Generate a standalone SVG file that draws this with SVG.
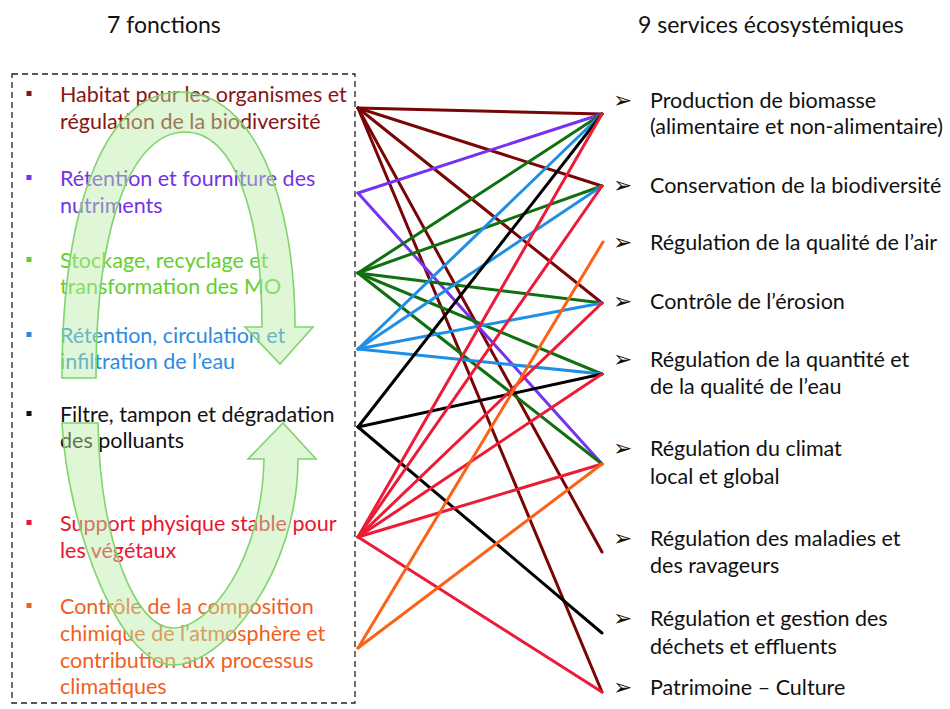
<svg xmlns="http://www.w3.org/2000/svg" width="950" height="709" viewBox="0 0 950 709">
<style>
text{font-family:Lato,"Open Sans","Liberation Sans",sans-serif;font-size:21.5px}
.hd{font-size:23px;fill:#111}
.bul{font-family:"DejaVu Sans",sans-serif;font-size:23px;fill:#111}
.c line{stroke-width:3;stroke-linecap:round}
.dr{stroke:#7a0505}.pu{stroke:#7433f2}.gr{stroke:#10700f}.bl{stroke:#1f8fe6}.bk{stroke:#000}.rd{stroke:#ec1b36}.or{stroke:#fb6216}
.arr{fill:#b8eca6;fill-opacity:0.45;stroke:#80d46c;stroke-width:1.6;stroke-linejoin:miter}
</style>
<rect width="950" height="709" fill="#fff"/>
<text class="hd" x="107" y="33">7 fonctions</text>
<text class="hd" x="638" y="33">9 services écosystémiques</text>
<rect x="12" y="74" width="343" height="629" fill="none" stroke="#222" stroke-width="1.3" stroke-dasharray="6,4"/>
<g id="connectors" class="c">
<line class="dr" x1="358" y1="108" x2="602" y2="114"/>
<line class="dr" x1="358" y1="108" x2="602" y2="186"/>
<line class="dr" x1="358" y1="108" x2="602" y2="303"/>
<line class="dr" x1="358" y1="108" x2="602" y2="552"/>
<line class="dr" x1="358" y1="108" x2="602" y2="692"/>
<line class="pu" x1="358" y1="193" x2="602" y2="114"/>
<line class="pu" x1="358" y1="193" x2="602" y2="464"/>
<line class="gr" x1="358" y1="273" x2="602" y2="114"/>
<line class="gr" x1="358" y1="273" x2="602" y2="186"/>
<line class="gr" x1="358" y1="273" x2="602" y2="303"/>
<line class="gr" x1="358" y1="273" x2="602" y2="374"/>
<line class="gr" x1="358" y1="273" x2="602" y2="464"/>
<line class="bl" x1="358" y1="349" x2="602" y2="114"/>
<line class="bl" x1="358" y1="349" x2="602" y2="186"/>
<line class="bl" x1="358" y1="349" x2="602" y2="303"/>
<line class="bl" x1="358" y1="349" x2="602" y2="374"/>
<line class="bk" x1="358" y1="427" x2="602" y2="114"/>
<line class="bk" x1="358" y1="427" x2="602" y2="374"/>
<line class="bk" x1="358" y1="427" x2="602" y2="633"/>
<line class="rd" x1="358" y1="537" x2="602" y2="114"/>
<line class="rd" x1="358" y1="537" x2="602" y2="186"/>
<line class="rd" x1="358" y1="537" x2="602" y2="303"/>
<line class="rd" x1="358" y1="537" x2="602" y2="374"/>
<line class="rd" x1="358" y1="537" x2="602" y2="464"/>
<line class="rd" x1="358" y1="537" x2="602" y2="692"/>
<line class="or" x1="358" y1="648" x2="603" y2="242"/>
<line class="or" x1="358" y1="648" x2="602" y2="464"/>
</g>
<g id="fn1" fill="#861515"><rect x="26.5" y="91" width="5" height="5"/><text x="60" y="102">Habitat pour les organismes et</text><text x="60" y="129">régulation de la biodiversité</text></g>
<g id="fn2" fill="#7433e6"><rect x="26.5" y="175" width="5" height="5"/><text x="60" y="186">Rétention et fourniture des</text><text x="60" y="213">nutriments</text></g>
<g id="fn3" fill="#62cf2e"><rect x="26.5" y="257" width="5" height="5"/><text x="60" y="268">Stockage, recyclage et</text><text x="60" y="294">transformation des MO</text></g>
<g id="fn4" fill="#2a8be0"><rect x="26.5" y="332" width="5" height="5"/><text x="60" y="343">Rétention, circulation et</text><text x="60" y="369">infiltration de l’eau</text></g>
<g id="fn5" fill="#111"><rect x="26.5" y="411" width="5" height="5"/><text x="60" y="422">Filtre, tampon et dégradation</text><text x="60" y="448">des polluants</text></g>
<g id="fn6" fill="#e8152e"><rect x="26.5" y="520" width="5" height="5"/><text x="60" y="531">Support physique stable pour</text><text x="60" y="558">les végétaux</text></g>
<g id="fn7" fill="#f0601e"><rect x="26.5" y="603" width="5" height="5"/><text x="60" y="614">Contrôle de la composition</text><text x="60" y="641">chimique de l’atmosphère et</text><text x="60" y="668">contribution aux processus</text><text x="60" y="694">climatiques</text></g>
<g id="cycle">
<path class="arr" d="M62 378 C62 200 108 92 180 92 C255 92 295 200 295 327 L313 327 L280 364 L245 327 L262 327 C262 215 235 132 185 132 C135 132 96 215 96 378 Z"/>
<path class="arr" d="M62 423 L98 423 C100 540 135 628 173 628 C210 628 262 560 264 459 L248 459 L283 423 L316 459 L298 459 C298 570 225 665 173 665 C120 665 68 530 62 423 Z"/>
</g>
<g fill="#111">
<g id="sv1"><text class="bul" x="613" y="108">➢</text><text x="650" y="108">Production de biomasse</text><text x="650" y="134">(alimentaire et non-alimentaire)</text></g>
<g id="sv2"><text class="bul" x="613" y="193">➢</text><text x="650" y="193">Conservation de la biodiversité</text></g>
<g id="sv3"><text class="bul" x="613" y="250">➢</text><text x="650" y="250">Régulation de la qualité de l’air</text></g>
<g id="sv4"><text class="bul" x="613" y="309">➢</text><text x="650" y="309">Contrôle de l’érosion</text></g>
<g id="sv5"><text class="bul" x="613" y="367">➢</text><text x="650" y="367">Régulation de la quantité et</text><text x="650" y="394">de la qualité de l’eau</text></g>
<g id="sv6"><text class="bul" x="613" y="456">➢</text><text x="650" y="456">Régulation du climat</text><text x="650" y="484">local et global</text></g>
<g id="sv7"><text class="bul" x="613" y="546">➢</text><text x="650" y="546">Régulation des maladies et</text><text x="650" y="573">des ravageurs</text></g>
<g id="sv8"><text class="bul" x="613" y="626">➢</text><text x="650" y="626">Régulation et gestion des</text><text x="650" y="654">déchets et effluents</text></g>
<g id="sv9"><text class="bul" x="613" y="695">➢</text><text x="650" y="695">Patrimoine – Culture</text></g>
</g>
</svg>
